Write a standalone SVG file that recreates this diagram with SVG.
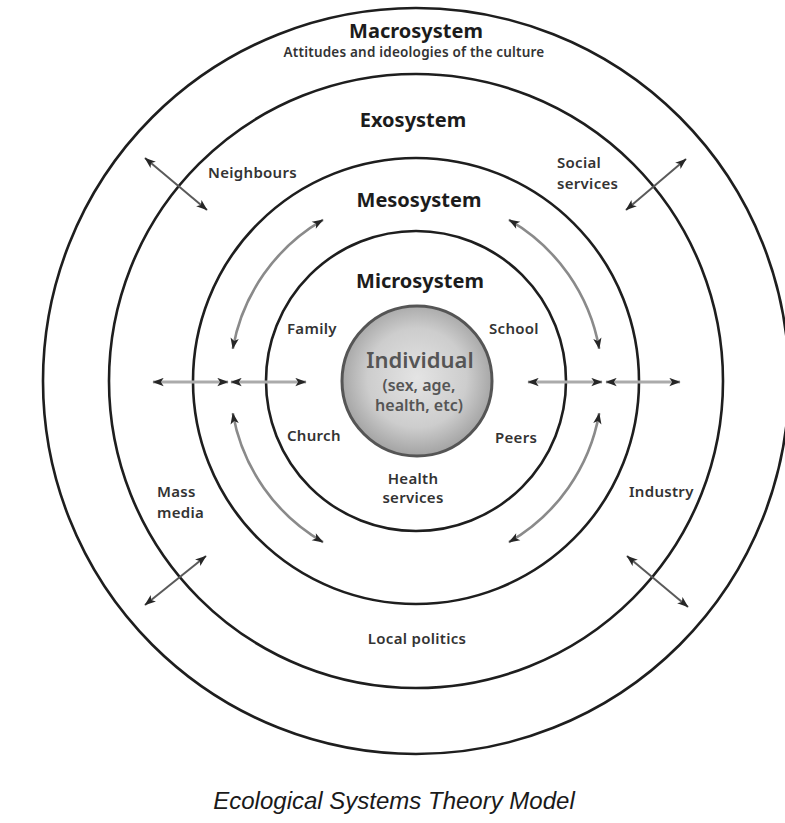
<svg xmlns="http://www.w3.org/2000/svg" width="785" height="823" viewBox="0 0 785 823">
<defs>
<radialGradient id="indGrad" cx="0.5" cy="0.48" r="0.55">
<stop offset="0" stop-color="#e4e4e4"/>
<stop offset="0.6" stop-color="#cdcdcd"/>
<stop offset="1" stop-color="#9c9c9c"/>
</radialGradient>
<marker id="ah" viewBox="0 0 10 8" refX="9.5" refY="4" markerWidth="12" markerHeight="9" markerUnits="userSpaceOnUse" orient="auto-start-reverse">
<path d="M0,0.3 L10,4 L0,7.7 L2.5,4 z" fill="#262626"/>
</marker>
</defs>
<style>
.ring{fill:none;stroke:#1e1e1e;stroke-width:2.6}
.title{font-family:"Noto Sans","Open Sans",sans-serif;font-weight:700;font-size:20px;fill:#1c1c1c;text-anchor:middle}
.lbl{font-family:"Noto Sans","Open Sans",sans-serif;font-weight:600;font-size:15px;letter-spacing:0.3px;fill:#333}
.mid{text-anchor:middle}
.diag{stroke:#5a5a5a;stroke-width:2;fill:none;marker-start:url(#ah);marker-end:url(#ah)}
.horiz{stroke:#ababab;stroke-width:3;fill:none;marker-start:url(#ah);marker-end:url(#ah)}
.arc{stroke:#8a8a8a;stroke-width:2.6;fill:none;marker-start:url(#ah);marker-end:url(#ah)}
.ind{font-family:"Noto Sans","Open Sans",sans-serif;font-weight:600;fill:#555;text-anchor:middle}
</style>
<rect width="785" height="823" fill="#ffffff"/>

<g id="macrosystem">
<circle class="ring" cx="416" cy="381" r="373"/>
<text class="title" x="416" y="38">Macrosystem</text>
<text class="lbl mid" x="414" y="57" style="font-size:13.5px;letter-spacing:0.2px">Attitudes and ideologies of the culture</text>
</g>

<g id="exosystem">
<circle class="ring" cx="416" cy="381" r="307"/>
<text class="title" x="413" y="127">Exosystem</text>
<text class="lbl" x="208" y="178">Neighbours</text>
<text class="lbl" x="557" y="168">Social</text>
<text class="lbl" x="557" y="189">services</text>
<text class="lbl" x="157" y="497">Mass</text>
<text class="lbl" x="157" y="518">media</text>
<text class="lbl" x="629" y="497">Industry</text>
<text class="lbl mid" x="417" y="644">Local politics</text>
</g>

<g id="mesosystem">
<circle class="ring" cx="416" cy="381" r="223"/>
<text class="title" x="419" y="207">Mesosystem</text>
</g>

<g id="microsystem">
<circle class="ring" cx="416" cy="381" r="150"/>
<text class="title" x="420" y="288">Microsystem</text>
<text class="lbl" x="287" y="334">Family</text>
<text class="lbl" x="489" y="334">School</text>
<text class="lbl" x="287" y="441">Church</text>
<text class="lbl" x="495" y="443">Peers</text>
<text class="lbl mid" x="413" y="484">Health</text>
<text class="lbl mid" x="413" y="503">services</text>
</g>

<g id="individual">
<circle cx="417" cy="381" r="75" fill="url(#indGrad)" stroke="#555" stroke-width="3"/>
<text class="ind" x="420" y="368" style="font-size:22px">Individual</text>
<text class="ind" x="419" y="391" style="font-size:16px">(sex, age,</text>
<text class="ind" x="419" y="411" style="font-size:16px">health, etc)</text>
</g>

<g id="connectors">
<line class="diag" x1="145" y1="158" x2="207" y2="210"/>
<line class="diag" x1="686" y1="159" x2="626" y2="210"/>
<line class="diag" x1="145" y1="605" x2="206" y2="556"/>
<line class="diag" x1="627" y1="556" x2="688" y2="607"/>
<line class="horiz" x1="153" y1="382" x2="228" y2="382"/>
<line class="horiz" x1="231" y1="382" x2="306" y2="382"/>
<line class="horiz" x1="528" y1="382" x2="602" y2="382"/>
<line class="horiz" x1="606" y1="382" x2="680" y2="382"/>
<path class="arc" d="M323,219.9 A186,186 0 0 0 232.8,348.7"/>
<path class="arc" d="M509,219.9 A186,186 0 0 1 599.2,348.7"/>
<path class="arc" d="M232.8,413.3 A186,186 0 0 0 323,542.1"/>
<path class="arc" d="M599.2,413.3 A186,186 0 0 1 509,542.1"/>
</g>

<g id="caption">
<text x="394" y="809" style="font-family:'Liberation Sans',Arial,sans-serif;font-style:italic;font-size:24px;fill:#1a1a1a;text-anchor:middle">Ecological Systems Theory Model</text>
</g>
</svg>
